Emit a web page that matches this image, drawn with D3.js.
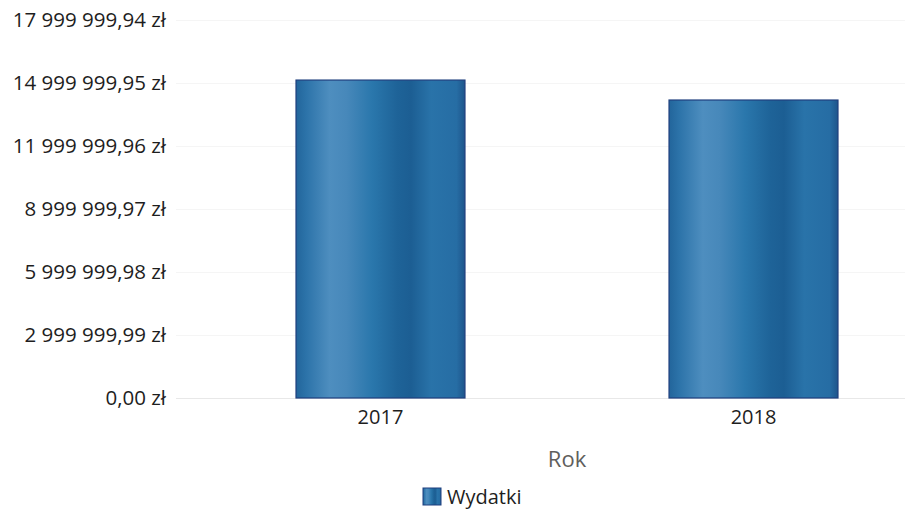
<!DOCTYPE html>
<html>
<head>
<meta charset="utf-8">
<script src="https://cdn.jsdelivr.net/npm/d3@7"></script>
<style>
  body { margin: 0; background: #fff; }
  svg { display: block; font-family: "Open Sans", "Noto Sans", sans-serif; }
</style>
</head>
<body>
<div id="chart"></div>
<script>
// Data.
const years = ["2017", "2018"];
const expenses = [15140000, 14190000];
const yTicks = [0, 2999999.99, 5999999.98, 8999999.97, 11999999.96, 14999999.95, 17999999.94];
const seriesName = "Wydatki";
const xTitle = "Rok";

const width = 912, height = 519;
const fontFamily = "\"Open Sans\", \"Noto Sans\", sans-serif";

const svg = d3.select("#chart").append("svg")
  .attr("width", width)
  .attr("height", height);

// Polish currency format.
const pl = d3.formatLocale({
  decimal: ",",
  thousands: "\u00a0",
  grouping: [3],
  currency: ["", "\u00a0zł"]
});
const fmt = pl.format("$,.2f");

const x = d3.scaleBand()
  .domain(years)
  .range([180, 954])
  .paddingInner(0.547)
  .paddingOuter(0.311);

const y = d3.scaleLinear()
  .domain([0, 17999999.94])
  .range([398, 20]);

// Bar gradient (cylinder look).
const defs = svg.append("defs");
const grad = defs.append("linearGradient")
  .attr("id", "barGrad")
  .attr("x1", "0%").attr("x2", "100%")
  .attr("y1", "0%").attr("y2", "0%");
[
  [0, "#22659b"],
  [0.06, "#2c73a9"],
  [0.2, "#4e8ebf"],
  [0.3, "#4788ba"],
  [0.45, "#2a77ac"],
  [0.6, "#1e6398"],
  [0.68, "#1c5e93"],
  [0.8, "#2973a9"],
  [0.95, "#266da4"],
  [1, "#1e558b"]
].forEach(([o, c]) => grad.append("stop").attr("offset", o).attr("stop-color", c));

// Faint gridlines.
svg.append("g")
  .selectAll("line")
  .data(yTicks)
  .join("line")
  .attr("x1", 176).attr("x2", 905)
  .attr("y1", d => Math.round(y(d)) + 0.5)
  .attr("y2", d => Math.round(y(d)) + 0.5)
  .attr("stroke", d => d === 0 ? "#e8e8e8" : "#f5f5f5")
  .attr("stroke-width", 1);

// Y axis labels.
const yAxis = d3.axisLeft(y)
  .tickValues(yTicks)
  .tickFormat(fmt)
  .tickSize(0)
  .tickPadding(0);
const yg = svg.append("g")
  .attr("transform", "translate(166,0)")
  .call(yAxis);
yg.select(".domain").remove();
yg.selectAll("text")
  .attr("font-size", 20.5)
  .attr("fill", "#1e1e1e")
  .attr("font-family", fontFamily);

// Bars.
svg.append("g")
  .selectAll("rect")
  .data(expenses)
  .join("rect")
  .attr("x", (d, i) => x(years[i]))
  .attr("y", d => y(d))
  .attr("width", x.bandwidth())
  .attr("height", d => y(0) - y(d))
  .attr("fill", "url(#barGrad)")
  .attr("stroke", "#1f3f7e")
  .attr("stroke-width", 1.2);

// X axis labels.
const xAxis = d3.axisBottom(x).tickSize(0).tickPadding(0);
const xg = svg.append("g")
  .attr("transform", "translate(0,410)")
  .call(xAxis);
xg.select(".domain").remove();
xg.selectAll("text")
  .attr("font-size", 20)
  .attr("fill", "#1e1e1e")
  .attr("dy", "0.71em")
  .attr("font-family", fontFamily);

// X axis title.
svg.append("text")
  .attr("x", (x.range()[0] + x.range()[1]) / 2)
  .attr("y", 467)
  .attr("text-anchor", "middle")
  .attr("font-size", 22)
  .attr("fill", "#605e5c")
  .text(xTitle);

// Legend.
const legend = svg.append("g").attr("transform", "translate(423,488)");
legend.append("rect")
  .attr("width", 18).attr("height", 17)
  .attr("fill", "url(#barGrad)")
  .attr("stroke", "#1f3f7e");
legend.append("text")
  .attr("x", 24)
  .attr("y", 16)
  .attr("font-size", 20)
  .attr("fill", "#1e1e1e")
  .text(seriesName);
</script>
</body>
</html>
